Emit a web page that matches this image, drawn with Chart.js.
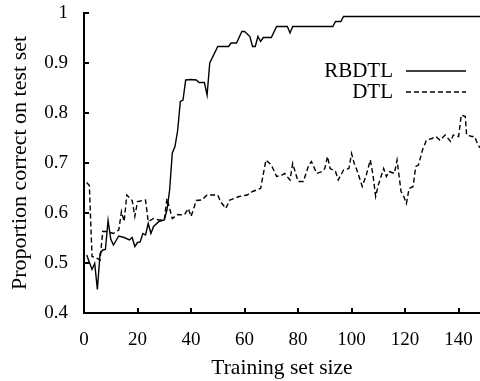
<!DOCTYPE html>
<html>
<head>
<meta charset="utf-8">
<script src="https://cdn.jsdelivr.net/npm/chart.js@4.4.1/dist/chart.umd.min.js"></script>
<style>
html,body{margin:0;padding:0;background:#fff;}
#wrap{width:480px;height:381px;}
</style>
</head>
<body>
<div id="wrap"><canvas id="chart" width="480" height="381"></canvas></div>
<script>
// training set sizes and accuracy
const rbSize=[1,3,4,5,6,7,8,9,10,11,13,15,17,18,19,20,21,22,23,24,25,26,28,30,31,32,33,34,35,36,37,38,40,42,43,45,46,47,50,54,55,57,59,60,62,63,64,65,66,67,70,72,76,77,78,93,94,96,97,148];
const rbAcc=[0.516,0.487,0.499,0.447,0.519,0.526,0.527,0.585,0.548,0.536,0.554,0.551,0.546,0.551,0.533,0.541,0.542,0.559,0.556,0.579,0.559,0.573,0.583,0.586,0.606,0.646,0.72,0.733,0.765,0.823,0.826,0.866,0.867,0.866,0.861,0.861,0.836,0.9,0.933,0.933,0.94,0.94,0.963,0.963,0.953,0.933,0.933,0.953,0.943,0.951,0.951,0.973,0.973,0.96,0.973,0.973,0.983,0.983,0.993,0.993];

const dtlSize=[1,2,3,5,6,7,8.5,11,13,14,15,16,18,19,20,23,24,26,28,30,31,33,35,37.5,39,40,42,44,46,50,51,53,54.5,58,61,63,66,68,70,72,74,75,77,78,80,82,84,85,87,89,90,91,92,94,95,97,99,100,101,102,104,105.5,107,108,109,110,112,113,114,116,117,118.5,119.5,120.5,121.5,123,124,125,126.5,128,130,131.5,133,135,137,138,140,141,142.5,143,145,146,147,148];
const dtlAcc=[0.661,0.655,0.513,0.509,0.506,0.563,0.563,0.559,0.566,0.603,0.583,0.636,0.625,0.593,0.623,0.626,0.583,0.589,0.586,0.586,0.629,0.589,0.597,0.596,0.609,0.593,0.625,0.626,0.636,0.636,0.623,0.609,0.626,0.633,0.636,0.643,0.649,0.706,0.696,0.673,0.676,0.679,0.666,0.699,0.663,0.663,0.696,0.703,0.679,0.683,0.689,0.713,0.689,0.683,0.666,0.686,0.689,0.719,0.699,0.686,0.653,0.676,0.706,0.676,0.633,0.656,0.689,0.673,0.683,0.679,0.706,0.643,0.633,0.619,0.649,0.653,0.693,0.696,0.726,0.746,0.749,0.753,0.746,0.756,0.743,0.756,0.753,0.796,0.793,0.756,0.753,0.753,0.739,0.73];

const seriesNames=['RBDTL','DTL'];

function toPoints(xs,ys){
const pts=[];
for(let i=0;i<xs.length;i++){
pts.push({x:xs[i],y:ys[i]});
}
return pts;
}

Chart.defaults.font.family="'Liberation Serif','DejaVu Serif',serif";
Chart.defaults.font.size=19;
Chart.defaults.color='#000';

// ticks point into the plot, and the legend sits inside it
const paperStyle={
id:'paperStyle',
afterDraw(chart){
const ctx=chart.ctx;
const xs=chart.scales.x;
const ys=chart.scales.y;
const area=chart.chartArea;
ctx.save();
ctx.strokeStyle='#000';
ctx.lineWidth=2;
ctx.setLineDash([]);
xs.ticks.forEach(t=>{
const px=Math.round(xs.getPixelForValue(t.value));
ctx.beginPath();
ctx.moveTo(px,area.bottom+1);
ctx.lineTo(px,area.bottom-5);
ctx.stroke();
});
ys.ticks.forEach(t=>{
const py=Math.round(ys.getPixelForValue(t.value));
ctx.beginPath();
ctx.moveTo(area.left-1,py);
ctx.lineTo(area.left+5,py);
ctx.stroke();
});

const rows=[71,92];
ctx.font="21px 'Liberation Serif'";
ctx.fillStyle='#000';
ctx.textAlign='right';
ctx.textBaseline='middle';
chart.data.datasets.forEach((ds,i)=>{
ctx.fillText(ds.label,393,rows[i]);
ctx.lineWidth=ds.borderWidth;
ctx.setLineDash(ds.borderDash||[]);
ctx.beginPath();
ctx.moveTo(406,rows[i]);
ctx.lineTo(466,rows[i]);
ctx.stroke();
});
ctx.restore();
}
};

const chart=new Chart(
document.getElementById('chart'),
{
type:'line',
data:{
datasets:[
{
label:seriesNames[0],
data:toPoints(rbSize,rbAcc),
borderColor:'#000',
borderWidth:1.4,
pointRadius:0,
tension:0,
fill:false
},
{
label:seriesNames[1],
data:toPoints(dtlSize,dtlAcc),
borderColor:'#000',
borderWidth:1.4,
borderDash:[5,3],
pointRadius:0,
tension:0,
fill:false
}
]
},
options:{
responsive:false,
animation:false,
layout:{
padding:{top:13,right:0,left:0,bottom:0}
},
plugins:{
legend:{display:false},
tooltip:{enabled:false}
},
scales:{
x:{
type:'linear',
min:0,
max:148,
afterFit:function(s){
s.height=68;
s.paddingLeft=0;
s.paddingRight=0;
},
ticks:{stepSize:20,includeBounds:false,padding:16},
grid:{display:true,drawOnChartArea:false,drawTicks:false},
border:{display:true,color:'#000',width:2},
title:{display:true,text:'Training set size',font:{size:21.5},padding:{top:0,bottom:0}}
},
y:{
type:'linear',
min:0.4,
max:1,
afterFit:function(s){
s.width=84;
s.paddingTop=0;
s.paddingBottom=0;
},
ticks:{
stepSize:0.1,
padding:16,
callback:function(v){
return String(Number(v.toFixed(1)));
}
},
grid:{display:true,drawOnChartArea:false,drawTicks:false},
border:{display:true,color:'#000',width:2},
title:{display:true,text:'Proportion correct on test set',font:{size:22},padding:{top:7,bottom:0}}
}
}
},
plugins:[paperStyle]
}
);
</script>
</body>
</html>
